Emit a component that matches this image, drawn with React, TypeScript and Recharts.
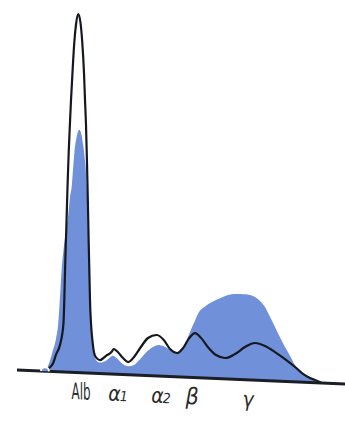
import { ComposedChart, Area, Line, XAxis, YAxis, ReferenceLine } from "recharts";

// Serum protein electrophoresis scan: normal pattern (outline) over a
// patient trace with a broad polyclonal gamma rise (filled).
// Mobility runs left (anode, albumin) to right (cathode, gamma).

const normalMobility = [
  46, 48, 53, 56, 60, 63.5, 64.3, 65, 65.7, 66.5, 67.5, 68.7, 70, 71, 72.5,
  74.3, 76, 78.3, 80.5, 82.3, 84, 85, 86, 87, 88, 88.7, 89.4, 90, 91, 92.5,
  94, 96, 100, 106, 111, 114, 118, 123, 128, 134, 140, 148, 157, 164, 170,
  177, 183, 189, 195, 201, 208, 216, 225, 235, 245, 255, 265, 275, 285, 295,
  302, 308, 315, 322,
];
const normalDensity = [
  0, 2.5, 8, 17, 27, 49, 72, 100, 125, 150, 185, 220, 250, 272, 300,
  330, 348, 358.5, 350, 330, 300, 273, 248, 210, 165, 130, 100, 73, 50, 32,
  21, 16, 13.5, 18, 21.5, 25, 22, 16.5, 12.7, 18, 27, 37.6, 41, 36, 27.5,
  23.8, 29, 39, 44.6, 40, 31, 23.5, 20.9, 25.3, 32.7, 37.2, 34.6, 29, 22.4, 14.9,
  9, 5.4, 2.7, 0,
];

const patientMobility = [
  45, 47, 50, 53, 56, 58.3, 60, 61.5, 63.5, 66, 68.5, 70, 71.7, 73, 74.3,
  76.7, 79.3, 81.5, 82.8, 84.3, 86.7, 87.7, 88.5, 89.3, 90, 91, 92.5, 94, 96,
  100, 106, 110, 113, 117, 122, 128, 134, 140, 148, 154, 160, 165, 170, 177,
  183, 187, 191, 195, 198, 205, 212, 220, 228, 235, 245, 255, 260, 265, 270,
  275, 280, 285, 290, 295, 300, 305, 310, 314, 318,
];
const patientDensity = [
  0, 3, 11, 21.5, 33, 49, 75, 100, 122, 140, 160, 175, 186, 203, 219,
  236, 243, 238, 230, 219, 186, 152, 122, 95, 70, 48, 30, 19, 13.5,
  11, 13, 16.5, 18.5, 16, 11, 8.5, 10, 16, 25, 29.5, 31, 29.5, 26.5, 22.5,
  29.5, 38, 48, 57, 64, 71.5, 76.3, 80.5, 84, 85.3, 85.5, 83.2, 79.5, 73.6, 64,
  54, 44, 34.4, 26, 17, 12, 7.3, 4, 1.8, 0,
];

const fractionLabels = ["Alb", "α1", "α2", "β", "γ"];
const fractionPositions = [81, 118, 161, 192, 248];

type Row = { x: number; normal?: number; patient?: number };

function buildTraceData(): Row[] {
  const rows = new Map<number, Row>();
  normalMobility.forEach((x, i) => {
    const row = rows.get(x) ?? { x };
    row.normal = normalDensity[i];
    rows.set(x, row);
  });
  patientMobility.forEach((x, i) => {
    const row = rows.get(x) ?? { x };
    row.patient = patientDensity[i];
    rows.set(x, row);
  });
  return [...rows.values()].sort((a, b) => a.x - b.x);
}

const traceData = buildTraceData();

const WIDTH = 345;
const HEIGHT = 425;
const PLOT_BOTTOM = 369.3;
const LABEL_BASELINE = 396;
const FILL_BLUE = "#7091da";
const TRACE_BLACK = "#15181e";

function FractionTick(props: any) {
  const { x, payload } = props;
  const i = fractionPositions.indexOf(payload.value);
  const label = fractionLabels[i] ?? "";
  const common = {
    x,
    y: LABEL_BASELINE,
    textAnchor: "middle" as const,
    fill: "#2b2b2b",
    fontFamily: "'Liberation Sans Narrow', 'DejaVu Sans Condensed', 'DejaVu Sans', sans-serif",
  };

  if (label === "Alb") {
    return (
      <text {...common} fontSize={23} textLength={19} lengthAdjust="spacingAndGlyphs">
        Alb
      </text>
    );
  }
  if (label.length === 2) {
    // alpha fractions: small index digit set tight to the glyph
    return (
      <text {...common} fontSize={21} fontStyle="italic">
        <tspan>{label[0]}</tspan>
        <tspan fontSize={14} dx={-1}>
          {label[1]}
        </tspan>
      </text>
    );
  }
  return (
    <text {...common} fontSize={label === "β" ? 23 : 21} fontStyle="italic">
      {label}
    </text>
  );
}

export default function App() {
  return (
    <div
      style={{
        position: "absolute",
        left: 0,
        top: 0,
        width: WIDTH,
        height: HEIGHT,
        background: "#fff",
        overflow: "hidden",
      }}
    >
      {/* the scan sits on a slightly sloping baseline */}
      <div style={{ transform: "skewY(2.445deg)", transformOrigin: "0 0" }}>
        <ComposedChart
          width={WIDTH}
          height={HEIGHT}
          data={traceData}
          margin={{ top: 0, right: 0, bottom: HEIGHT - PLOT_BOTTOM - 40, left: 0 }}
        >
          <XAxis
            dataKey="x"
            type="number"
            domain={[0, WIDTH]}
            ticks={fractionPositions}
            interval={0}
            axisLine={false}
            tickLine={false}
            height={40}
            tick={<FractionTick />}
          />
          <YAxis hide type="number" domain={[0, PLOT_BOTTOM]} allowDataOverflow />
          <Area
            dataKey="patient"
            type="monotone"
            fill={FILL_BLUE}
            fillOpacity={1}
            stroke="none"
            connectNulls
            isAnimationActive={false}
          />
          <Line
            dataKey="normal"
            type="monotone"
            stroke={TRACE_BLACK}
            strokeWidth={2.2}
            dot={false}
            connectNulls
            isAnimationActive={false}
          />
          <ReferenceLine
            segment={[
              { x: 17, y: 0 },
              { x: WIDTH, y: 0 },
            ]}
            stroke="#1b1e24"
            strokeWidth={3}
            ifOverflow="visible"
          />
        </ComposedChart>
      </div>
    </div>
  );
}
